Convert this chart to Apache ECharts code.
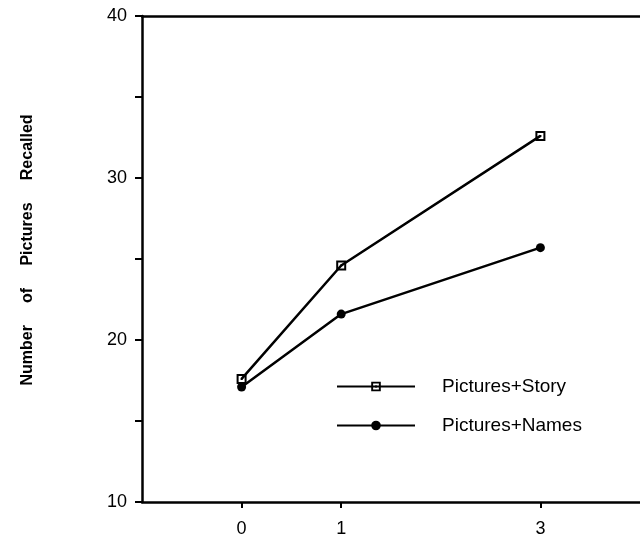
<!DOCTYPE html>
<html>
<head>
<meta charset="utf-8">
<script src="https://cdn.jsdelivr.net/npm/echarts@6/dist/echarts.min.js"></script>
<style>html,body{margin:0;padding:0;background:#fff;}#c{width:640px;height:538px;}</style>
</head>
<body>
<div id="c"></div>
<script>
var xValues = [0, 1, 3];
var storyValues = [17.6, 24.6, 32.6];
var namesValues = [17.1, 21.6, 25.7];
var xTickLabels = [0, 1, 3];
var yTickLabels = [10, 20, 30, 40];
var yTicks = [10, 15, 20, 25, 30, 35, 40];
var seriesNames = ['Pictures+Story', 'Pictures+Names'];
var yTitle = 'Number     of     Pictures     Recalled';

var squareDot = 'path://M0,0 H10 V10 H0 Z M2,2 V8 H8 V2 Z M4,4 H6 V6 H4 Z';

var chart = echarts.init(document.getElementById('c'));
var font = 'Liberation Sans, Arial, Helvetica, sans-serif';
chart.setOption({
  animation: false,
  backgroundColor: '#fff',
  grid: {left: 142, top: 16, width: 505, height: 487},
  xAxis: [{
    type: 'value', min: -1, max: 4, interval: 1,
    axisLine: {show: true, onZero: false, lineStyle: {color: '#000', width: 2.5}},
    axisTick: {show: true, customValues: xTickLabels, length: 6, inside: false, lineStyle: {color: '#000', width: 2}},
    axisLabel: {customValues: xTickLabels, color: '#000', fontSize: 18, fontFamily: font, margin: 18},
    splitLine: {show: false}
  }, {
    type: 'value', position: 'top', min: -1, max: 4,
    axisLine: {show: true, onZero: false, lineStyle: {color: '#000', width: 2.5}},
    axisTick: {show: false}, axisLabel: {show: false}, splitLine: {show: false}
  }],
  yAxis: {
    type: 'value', min: 10, max: 40, interval: 5,
    axisLine: {show: true, onZero: false, lineStyle: {color: '#000', width: 2.5}},
    axisTick: {show: true, customValues: yTicks, length: 7, lineStyle: {color: '#000', width: 2}},
    axisLabel: {customValues: yTickLabels, color: '#000', fontSize: 18, fontFamily: font, margin: 15},
    splitLine: {show: false}
  },
  legend: {
    orient: 'vertical', left: 331, top: 372, itemWidth: 78, itemHeight: 12, itemGap: 20,
    data: seriesNames,
    textStyle: {color: '#000', fontSize: 19, fontFamily: font, padding: [0, 0, 0, 22]}
  },
  graphic: [{
    type: 'text', x: 28, y: 250, rotation: Math.PI / 2,
    style: {text: yTitle, fill: '#000', font: 'bold 16px ' + font, align: 'center', verticalAlign: 'middle'}
  }],
  series: [{
    name: seriesNames[0], type: 'line',
    data: xValues.map(function (x, i) { return [x, storyValues[i]]; }),
    symbol: squareDot, symbolSize: 10,
    lineStyle: {color: '#000', width: 2.5},
    itemStyle: {color: '#000'}
  }, {
    name: seriesNames[1], type: 'line',
    data: xValues.map(function (x, i) { return [x, namesValues[i]]; }),
    symbol: 'circle', symbolSize: 9,
    lineStyle: {color: '#000', width: 2.5},
    itemStyle: {color: '#000'}
  }]
});
</script>
</body>
</html>
